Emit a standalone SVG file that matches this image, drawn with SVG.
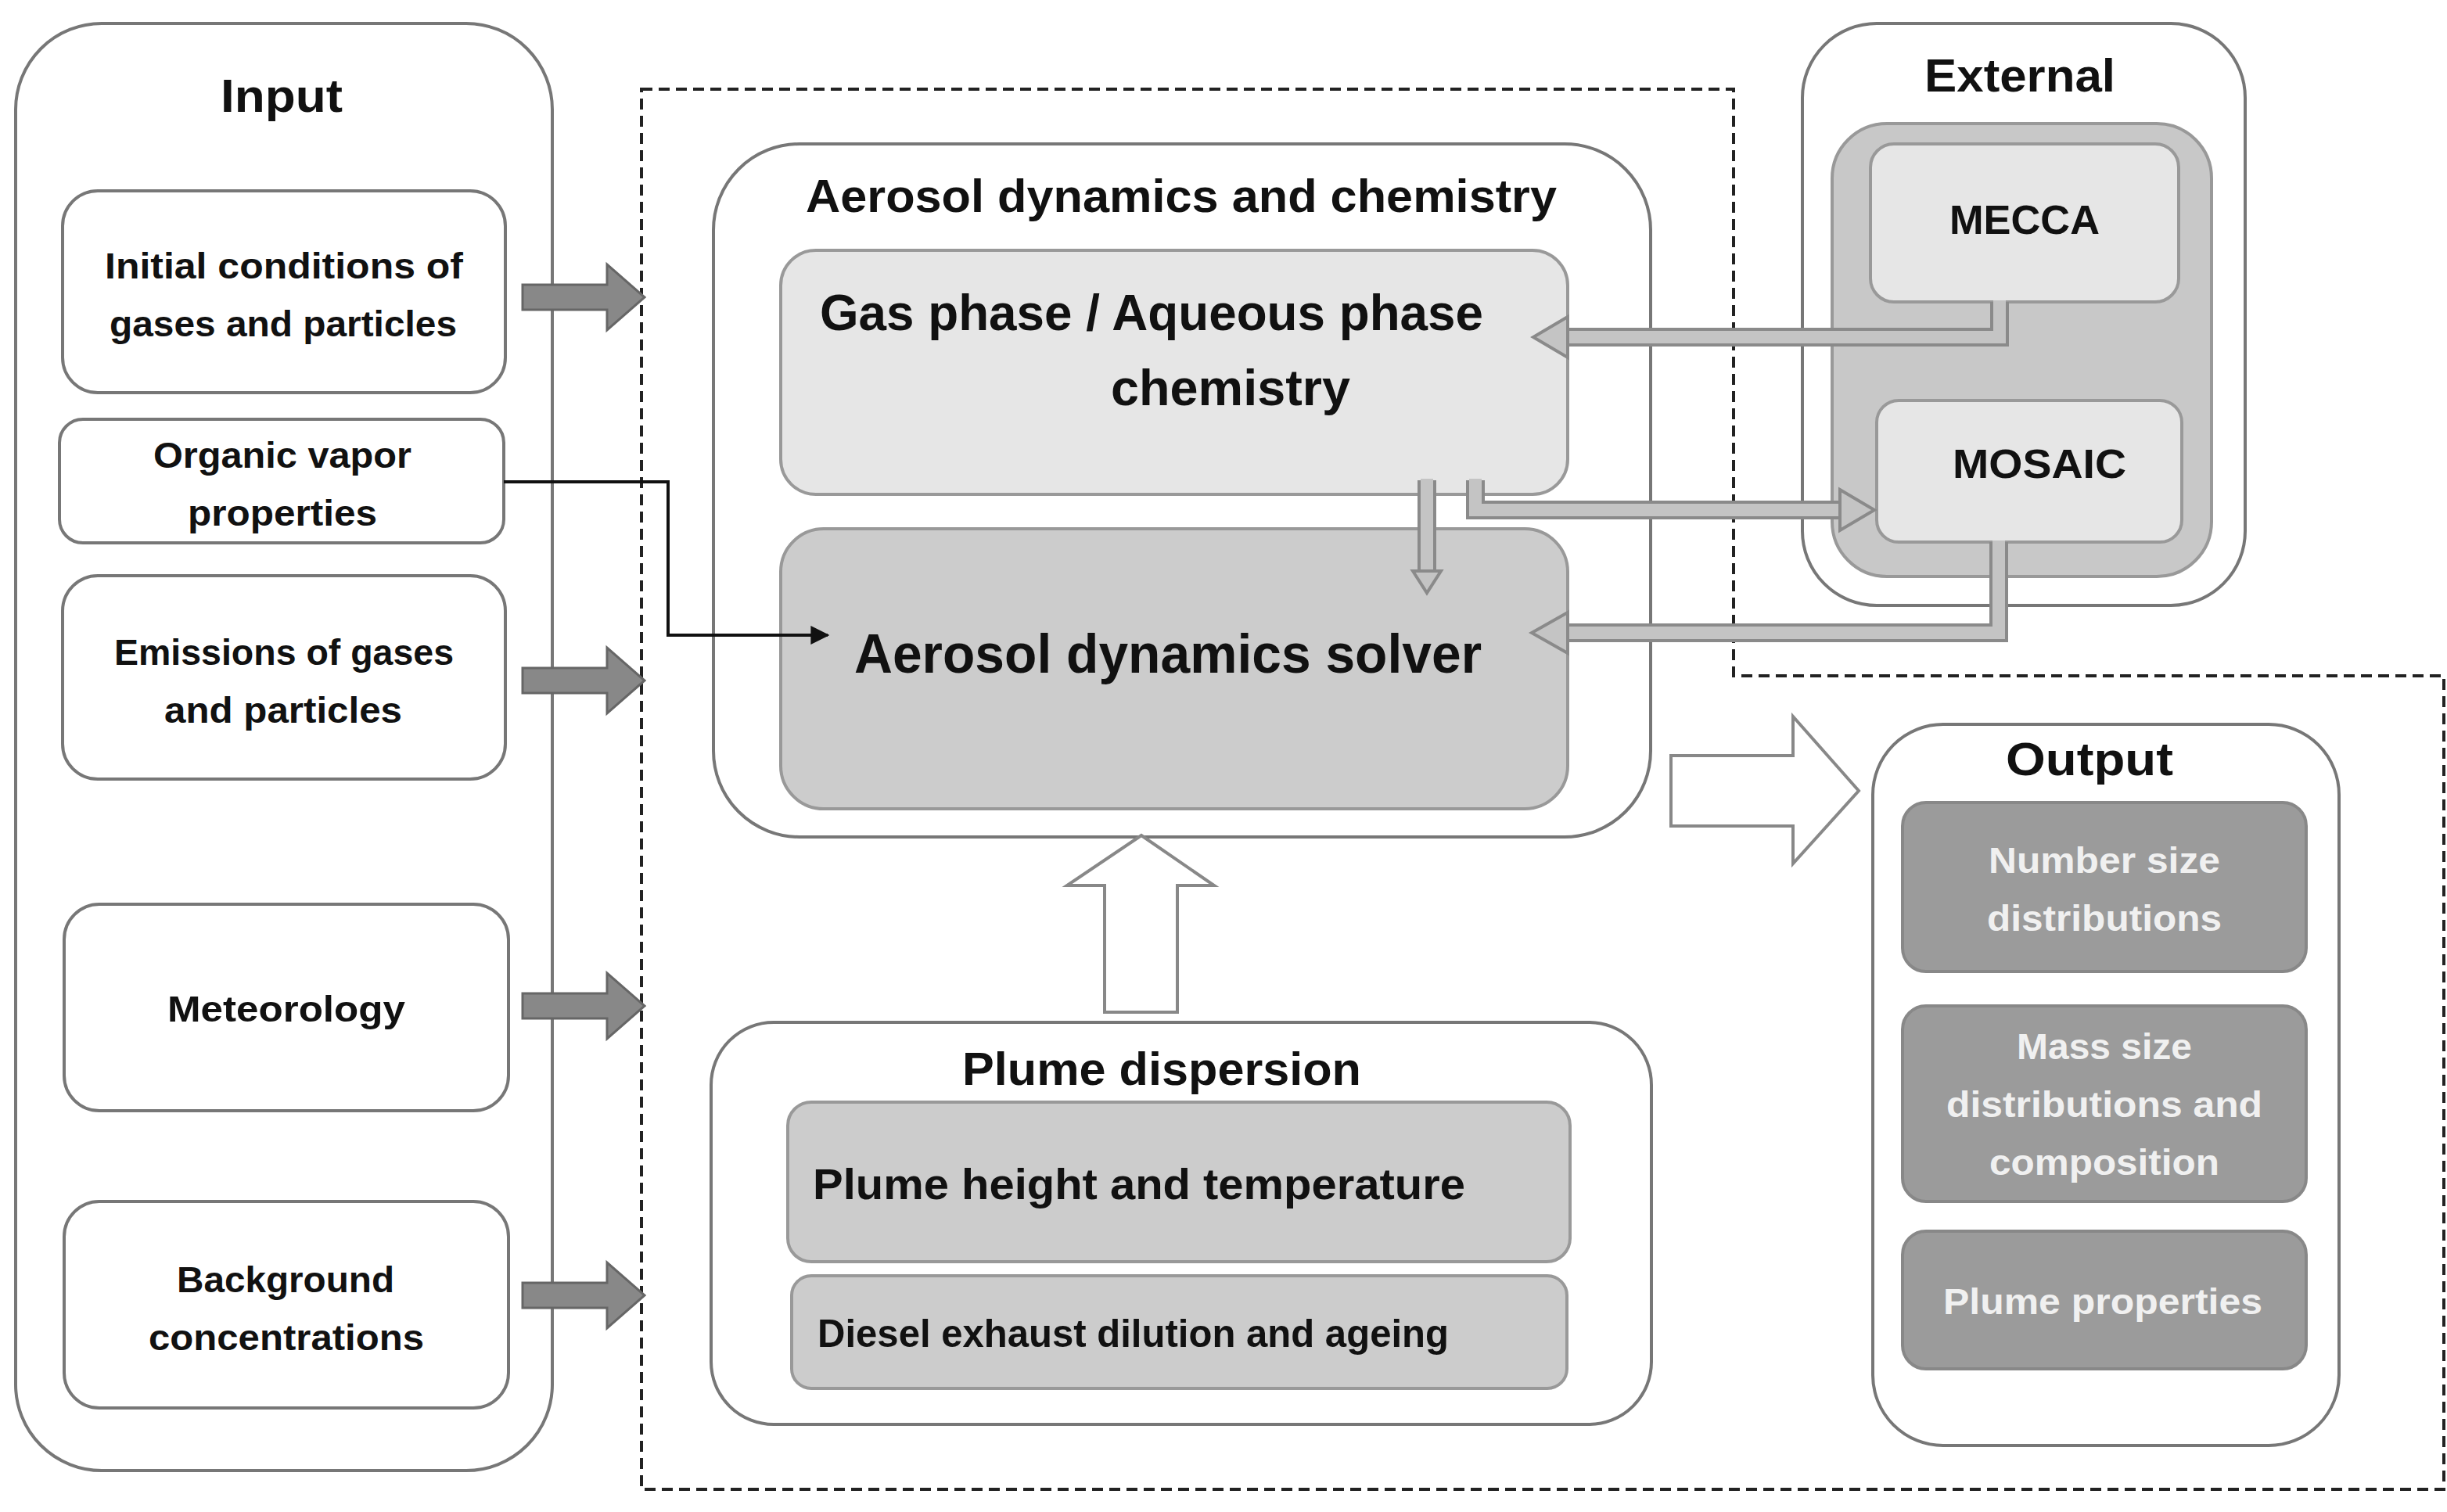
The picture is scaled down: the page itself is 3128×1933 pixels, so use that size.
<svg xmlns="http://www.w3.org/2000/svg" width="3128" height="1933" viewBox="0 0 3128 1933">
<defs>
<style>
text{font-family:"Liberation Sans",Arial,sans-serif;font-weight:bold;fill:#111;text-anchor:middle;dominant-baseline:central}
.w{fill:#fff;stroke:#777;stroke-width:4}
.lt{fill:#e6e6e6;stroke:#999;stroke-width:4}
.md{fill:#cccccc;stroke:#999;stroke-width:4}
.dk{fill:#9b9b9b;stroke:#888;stroke-width:4}
.wt{fill:#f0f0f0}
.ga{fill:#888;stroke:#666;stroke-width:3}
.hollow{fill:#fff;stroke:#888;stroke-width:4}
.bandO{fill:none;stroke:#8a8a8a;stroke-width:24}
.bandI{fill:none;stroke:#c4c4c4;stroke-width:16}
.head{fill:#c4c4c4;stroke:#8a8a8a;stroke-width:4}
</style>
<marker id="blk" viewBox="0 0 10 10" refX="9" refY="5" markerWidth="6" markerHeight="6" orient="auto"><path d="M0,0 L10,5 L0,10 z" fill="#111"/></marker>
</defs>

<g id="input">
<rect class="w" x="20" y="30" width="686" height="1850" rx="110"/>
<text x="360" y="122" font-size="60" textLength="156" lengthAdjust="spacingAndGlyphs">Input</text>
</g>
<g id="initial">
<rect class="w" x="80" y="244" width="566" height="258" rx="45"/>
<text x="363" y="340" font-size="46" textLength="458" lengthAdjust="spacingAndGlyphs">Initial conditions of</text>
<text x="362" y="414" font-size="46" textLength="444" lengthAdjust="spacingAndGlyphs">gases and particles</text>
</g>
<g id="organic">
<rect class="w" x="76" y="536" width="568" height="158" rx="30"/>
<text x="361" y="582" font-size="46" textLength="330" lengthAdjust="spacingAndGlyphs">Organic vapor</text>
<text x="361" y="656" font-size="46" textLength="242" lengthAdjust="spacingAndGlyphs">properties</text>
</g>
<g id="emissions">
<rect class="w" x="80" y="736" width="566" height="260" rx="45"/>
<text x="363" y="834" font-size="46" textLength="434" lengthAdjust="spacingAndGlyphs">Emissions of gases</text>
<text x="362" y="908" font-size="46" textLength="304" lengthAdjust="spacingAndGlyphs">and particles</text>
</g>
<g id="meteorology">
<rect class="w" x="82" y="1156" width="568" height="264" rx="45"/>
<text x="366" y="1290" font-size="46" textLength="304" lengthAdjust="spacingAndGlyphs">Meteorology</text>
</g>
<g id="background">
<rect class="w" x="82" y="1536" width="568" height="264" rx="45"/>
<text x="365" y="1636" font-size="46" textLength="278" lengthAdjust="spacingAndGlyphs">Background</text>
<text x="366" y="1710" font-size="46" textLength="352" lengthAdjust="spacingAndGlyphs">concentrations</text>
</g>

<g id="model-boundary">
<path d="M820,114 H2216 V864 H3124 V1904 H820 Z" fill="none" stroke="#222" stroke-width="4" stroke-dasharray="14,8"/>
</g>

<g id="aerosol">
<rect class="w" x="912" y="184" width="1198" height="886" rx="110"/>
<text x="1510" y="250" font-size="60" textLength="960" lengthAdjust="spacingAndGlyphs">Aerosol dynamics and chemistry</text>
</g>
<g id="gasphase">
<rect class="lt" x="998" y="320" width="1006" height="312" rx="45"/>
<text x="1472" y="400" font-size="64" textLength="848" lengthAdjust="spacingAndGlyphs">Gas phase / Aqueous phase</text>
<text x="1573" y="496" font-size="64" textLength="306" lengthAdjust="spacingAndGlyphs">chemistry</text>
</g>
<g id="solver">
<rect class="md" x="998" y="676" width="1006" height="358" rx="55"/>
<text x="1493" y="836" font-size="70" textLength="802" lengthAdjust="spacingAndGlyphs">Aerosol dynamics solver</text>
</g>

<g id="external">
<rect class="w" x="2304" y="30" width="566" height="744" rx="95"/>
<text x="2582" y="96" font-size="60" textLength="244" lengthAdjust="spacingAndGlyphs">External</text>
<rect fill="#c8c8c8" stroke="#999" stroke-width="4" x="2342" y="158" width="485" height="579" rx="70"/>
</g>
<g id="mecca">
<rect class="lt" x="2391" y="184" width="394" height="202" rx="30"/>
<text x="2588" y="281" font-size="52" textLength="192" lengthAdjust="spacingAndGlyphs">MECCA</text>
</g>
<g id="mosaic">
<rect class="lt" x="2399" y="512" width="390" height="181" rx="28"/>
<text x="2607" y="593" font-size="52" textLength="222" lengthAdjust="spacingAndGlyphs">MOSAIC</text>
</g>

<g id="output">
<rect class="w" x="2394" y="926" width="596" height="922" rx="90"/>
<text x="2671" y="970" font-size="60" textLength="214" lengthAdjust="spacingAndGlyphs">Output</text>
</g>
<g id="number">
<rect class="dk" x="2432" y="1026" width="516" height="216" rx="30"/>
<text class="wt" x="2690" y="1100" font-size="46" textLength="296" lengthAdjust="spacingAndGlyphs">Number size</text>
<text class="wt" x="2690" y="1174" font-size="46" textLength="300" lengthAdjust="spacingAndGlyphs">distributions</text>
</g>
<g id="mass">
<rect class="dk" x="2432" y="1286" width="516" height="250" rx="30"/>
<text class="wt" x="2690" y="1338" font-size="46" textLength="224" lengthAdjust="spacingAndGlyphs">Mass size</text>
<text class="wt" x="2690" y="1412" font-size="46" textLength="404" lengthAdjust="spacingAndGlyphs">distributions and</text>
<text class="wt" x="2690" y="1486" font-size="46" textLength="294" lengthAdjust="spacingAndGlyphs">composition</text>
</g>
<g id="plumeprops">
<rect class="dk" x="2432" y="1574" width="516" height="176" rx="30"/>
<text class="wt" x="2688" y="1664" font-size="46" textLength="408" lengthAdjust="spacingAndGlyphs">Plume properties</text>
</g>

<g id="plume">
<rect class="w" x="909" y="1307" width="1202" height="514" rx="80"/>
<text x="1485" y="1366" font-size="60" textLength="510" lengthAdjust="spacingAndGlyphs">Plume dispersion</text>
</g>
<g id="plumeheight">
<rect class="md" x="1007" y="1409" width="1000" height="204" rx="30"/>
<text x="1039" y="1513" font-size="56" text-anchor="start" style="text-anchor:start" textLength="834" lengthAdjust="spacingAndGlyphs">Plume height and temperature</text>
</g>
<g id="diesel">
<rect class="md" x="1012" y="1631" width="991" height="144" rx="25"/>
<text x="1045" y="1705" font-size="50" style="text-anchor:start" textLength="807" lengthAdjust="spacingAndGlyphs">Diesel exhaust dilution and ageing</text>
</g>

<g id="connectors">
<!-- input gray arrows -->
<path class="ga" d="M668,364 H776 V338 L824,380 L776,422 V396 H668 Z"/>
<path class="ga" d="M668,854 H776 V828 L824,870 L776,912 V886 H668 Z"/>
<path class="ga" d="M668,1270 H776 V1244 L824,1286 L776,1328 V1302 H668 Z"/>
<path class="ga" d="M668,1640 H776 V1614 L824,1656 L776,1698 V1672 H668 Z"/>
<!-- organic vapor line -->
<path d="M644,616 H854 V812 H1058" fill="none" stroke="#111" stroke-width="4" marker-end="url(#blk)"/>
<!-- MECCA -> gas phase -->
<path class="bandO" d="M2556,386 V431 H2000"/>
<path class="bandI" d="M2556,384 V431 H1998"/>
<path class="head" d="M2004,405 L1960,431 L2004,457 Z"/>
<!-- gas -> MOSAIC -->
<path class="bandO" d="M1886,614 V652 H2356"/>
<path class="bandI" d="M1886,612 V652 H2358"/>
<path class="head" d="M2352,626 L2396,652 L2352,678 Z"/>
<!-- gas -> solver -->
<path class="bandO" d="M1824,614 V730"/>
<path class="bandI" d="M1824,612 V732"/>
<path class="head" d="M1806,730 L1824,758 L1842,730 Z"/>
<!-- MOSAIC -> solver -->
<path class="bandO" d="M2555,693 V809 H2000"/>
<path class="bandI" d="M2555,691 V809 H1998"/>
<path class="head" d="M2004,783 L1958,809 L2004,835 Z"/>
<!-- hollow arrows -->
<path class="hollow" d="M2136,966 H2292 V916 L2376,1011 L2292,1104 V1056 H2136 Z"/>
<path class="hollow" d="M1412,1294 V1132 H1364 L1459,1068 L1552,1132 H1505 V1294 Z"/>
</g>
</svg>
